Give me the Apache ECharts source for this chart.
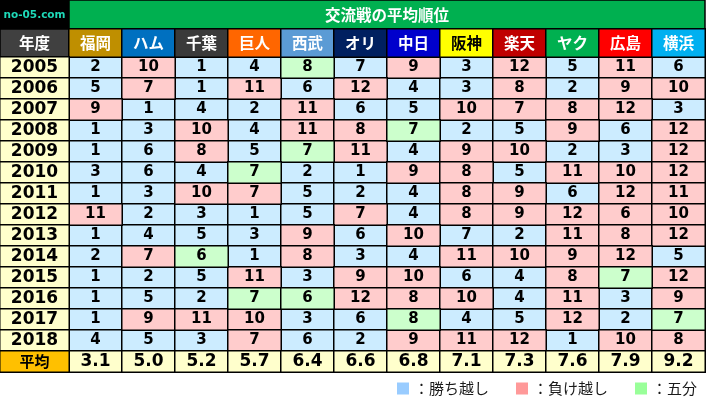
<!DOCTYPE html>
<html><head><meta charset="utf-8">
<script src="https://cdn.jsdelivr.net/npm/echarts@6/dist/echarts.min.js"></script>
<style>html,body{margin:0;padding:0;background:#fff}#c{width:706px;height:404px}</style>
</head><body><div id="c"></div>
<script>
const teams = ['福岡','ハム','千葉','巨人','西武','オリ','中日','阪神','楽天','ヤク','広島','横浜'];
const years = [2005,2006,2007,2008,2009,2010,2011,2012,2013,2014,2015,2016,2017,2018];
const ranks = [
  [2,10,1,4,8,7,9,3,12,5,11,6],
  [5,7,1,11,6,12,4,3,8,2,9,10],
  [9,1,4,2,11,6,5,10,7,8,12,3],
  [1,3,10,4,11,8,7,2,5,9,6,12],
  [1,6,8,5,7,11,4,9,10,2,3,12],
  [3,6,4,7,2,1,9,8,5,11,10,12],
  [1,3,10,7,5,2,4,8,9,6,12,11],
  [11,2,3,1,5,7,4,8,9,12,6,10],
  [1,4,5,3,9,6,10,7,2,11,8,12],
  [2,7,6,1,8,3,4,11,10,9,12,5],
  [1,2,5,11,3,9,10,6,4,8,7,12],
  [1,5,2,7,6,12,8,10,4,11,3,9],
  [1,9,11,10,3,6,8,4,5,12,2,7],
  [4,5,3,7,6,2,9,11,12,1,10,8]
];
// W = 勝ち越し, L = 負け越し, D = 五分
const results = [
  'WLWWDWLWLWLW',
  'WLWLWLWWLWLL',
  'LWWWLWWLLLLW',
  'WWLWLLDWWLWL',
  'WWLWDLWLLWWL',
  'WWWDWWLLWLLL',
  'WWLLWWWLLWLL',
  'LWWWWLWLLLLL',
  'WWWWLWLWWLLL',
  'WLDWLWWLLLLW',
  'WWWLWLLWWLDL',
  'WWWDDLLLWLWL',
  'WLLLWWDWWLWD',
  'WWWLWWLLLWLL'
];
const averages = [3.1,5.0,5.2,5.7,6.4,6.6,6.8,7.1,7.3,7.6,7.9,9.2];
const avgLabel = '平均';
const statusNames = {W:'：勝ち越し', L:'：負け越し', D:'：五分'};

// styles
const teamColors = ['#BF8F00','#0070C0','#3A3A3A','#FF6600','#5B9BD5','#002060','#0000CC','#FFFF00','#C00000','#00B050','#FF0000','#00B0F0'];
const teamText = ['#fff','#fff','#fff','#fff','#fff','#fff','#fff','#000','#fff','#fff','#fff','#fff'];
const cellColors = {W:'#CCECFF', L:'#FFCCCC', D:'#CCFFCC'};
const legendColors = {W:'#99CCFF', L:'#FF9999', D:'#99FF99'};
const CJK = '"Noto Sans CJK JP", sans-serif';
const NUM = '"DejaVu Sans", Verdana, sans-serif';
const BW = 1.5;

const rowCats = years.map(String).concat([avgLabel]);

function statusData(s) {
  const out = [];
  ranks.forEach((row, yi) => row.forEach((v, ti) => {
    if (results[yi][ti] === s) out.push([ti, yi, v]);
  }));
  return out;
}

const chart = echarts.init(document.getElementById('c'), null, {renderer:'canvas'});
const baseCell = (color) => ({color, borderColor:'#000', borderWidth:BW});

const series = [];
['W','L','D'].forEach(s => {
  series.push({
    type:'heatmap', name:statusNames[s], xAxisIndex:0, yAxisIndex:0,
    data:statusData(s),
    itemStyle:baseCell(cellColors[s]),
    label:{show:true, formatter:p=>String(p.value[2]), fontFamily:NUM, fontWeight:'bold', fontSize:15, color:'#000'},
    emphasis:{disabled:true}
  });
});
// averages row
series.push({
  type:'heatmap', name:'avg', xAxisIndex:0, yAxisIndex:0,
  data:averages.map((v,i)=>[i, years.length, v]),
  itemStyle:baseCell('#FFFFCC'),
  label:{show:true, formatter:p=>p.value[2].toFixed(1), fontFamily:NUM, fontWeight:'bold', fontSize:17, color:'#000'},
  emphasis:{disabled:true}
});
// header row with team names
series.push({
  type:'heatmap', name:'teams', xAxisIndex:1, yAxisIndex:1,
  data:teams.map((t,i)=>({value:[i,0,i], itemStyle:baseCell(teamColors[i]), label:{color:teamText[i]}})),
  label:{show:true, formatter:p=>teams[p.value[2]], fontFamily:CJK, fontWeight:'bold', fontSize:15.5},
  emphasis:{disabled:true}
});
// year column
series.push({
  type:'heatmap', name:'years', xAxisIndex:2, yAxisIndex:2,
  data:years.map((y,i)=>({value:[0,i,y], itemStyle:baseCell('#FFFFCC')})).concat([
    {value:[0,years.length,0], itemStyle:baseCell('#FFC000'), label:{fontFamily:CJK, fontSize:15}}
  ]),
  label:{show:true, formatter:p=>p.dataIndex < years.length ? String(years[p.dataIndex]) : avgLabel,
    fontFamily:NUM, fontWeight:'bold', fontSize:17, color:'#000'},
  emphasis:{disabled:true}
});

chart.setOption({
  animation:false,
  grid:[
    {left:69, top:57, width:636, height:315},
    {left:69, top:29, width:636, height:28},
    {left:0, top:57, width:69, height:315}
  ],
  xAxis:[
    {type:'category', data:teams, gridIndex:0, show:false},
    {type:'category', data:teams, gridIndex:1, show:false},
    {type:'category', data:['y'], gridIndex:2, show:false}
  ],
  yAxis:[
    {type:'category', data:rowCats, gridIndex:0, inverse:true, show:false},
    {type:'category', data:['h'], gridIndex:1, show:false},
    {type:'category', data:rowCats, gridIndex:2, inverse:true, show:false}
  ],
  legend:{
    right:4, top:376, itemWidth:12, itemHeight:12, itemGap:27, icon:'rect',
    data:['W','L','D'].map(s=>({name:statusNames[s], itemStyle:{color:legendColors[s], borderWidth:0}})),
    textStyle:{fontFamily:CJK, fontSize:15, color:'#1a1a1a'},
    selectedMode:false
  },
  graphic:[
    {type:'rect', shape:{x:0,y:0,width:69,height:29}, style:{fill:'#000'}},
    {type:'text', x:34.5, y:15, style:{text:'no-05.com', fill:'#1ED9B8', font:'bold 10.5px "DejaVu Sans", Verdana, sans-serif', align:'center', verticalAlign:'middle'}},
    {type:'rect', shape:{x:69,y:0,width:636,height:29}, style:{fill:'#00B050', stroke:'#000', lineWidth:BW}},
    {type:'text', x:387, y:15, style:{text:'交流戦の平均順位', fill:'#fff', font:'bold 15.5px "Noto Sans CJK JP", sans-serif', align:'center', verticalAlign:'middle'}},
    {type:'rect', shape:{x:0,y:29,width:69,height:28}, style:{fill:'#404040', stroke:'#000', lineWidth:BW}},
    {type:'text', x:34.5, y:43, style:{text:'年度', fill:'#fff', font:'bold 15.5px "Noto Sans CJK JP", sans-serif', align:'center', verticalAlign:'middle'}}
  ],
  series
});
</script></body></html>
